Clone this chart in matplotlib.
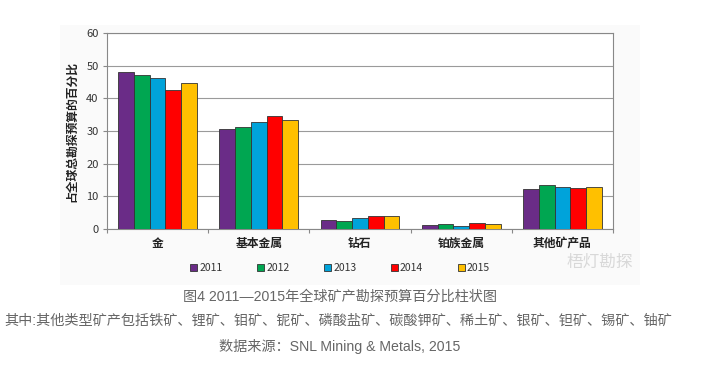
import matplotlib
matplotlib.use("Agg")
import matplotlib.pyplot as plt
import numpy as np
from matplotlib.patches import Rectangle

plt.rcParams['font.family'] = ['Noto Sans CJK SC', 'DejaVu Sans']

categories = ['金', '基本金属', '钻石', '铂族金属', '其他矿产品']
years = ['2011', '2012', '2013', '2014', '2015']
v2011 = [48.0, 30.7, 2.7, 1.3, 12.1]
v2012 = [47.2, 31.2, 2.6, 1.5, 13.5]
v2013 = [46.1, 32.7, 3.4, 0.9, 13.0]
v2014 = [42.6, 34.6, 4.1, 1.8, 12.5]
v2015 = [44.7, 33.3, 4.1, 1.4, 12.9]
series = [v2011, v2012, v2013, v2014, v2015]
colors = ['#6A2C87', '#00A651', '#00A3DA', '#FF0000', '#FFC000']

fig = plt.figure(figsize=(7.10, 3.76), dpi=100)
fig.patch.set_facecolor('white')
fig.patches.append(Rectangle((60/710, 1-285/376), 580/710, 260/376,
                             transform=fig.transFigure, facecolor='#fafafa',
                             edgecolor='none', zorder=-10))

ax = fig.add_axes([107/710, 1-229/376, 506/710, 196/376])
ax.set_facecolor('white')

x = np.arange(len(categories))
bw = 0.156
for i, (vals, c, y) in enumerate(zip(series, colors, years)):
    ax.bar(x + (i - 2) * bw, vals, width=bw, color=c, edgecolor='#333333',
           linewidth=0.6, label=y, zorder=3)

ax.set_xlim(-0.5, 4.5)
ax.set_ylim(0, 60)
ax.set_yticks(range(0, 61, 10))
ax.yaxis.grid(True, color='#9a9a9a', linewidth=0.8, zorder=0)
ax.set_xticks(np.arange(-0.5, 5, 1))
ax.set_xticklabels([])
ax.tick_params(axis='x', length=3, color='#888888', direction='out')
ax.tick_params(axis='y', length=3, color='#888888', labelsize=8, labelcolor='#333333', pad=3)
for s in ax.spines.values():
    s.set_color('#888888')
    s.set_linewidth(0.8)

for xi, cat in zip(x, categories):
    ax.text(xi, -4.3, cat, ha='center', va='center', fontsize=8.5,
            fontweight='bold', color='#222222')

ax.set_ylabel('占全球总勘探预算的百分比', fontsize=8.5, fontweight='bold',
              color='#222222', labelpad=6)

leg = fig.legend(loc='center', bbox_to_anchor=(340/710, 1-268/376), ncol=5,
                 frameon=False, fontsize=7.5, handlelength=0.7, handleheight=0.7,
                 handletextpad=0.2, columnspacing=3.3)
for t in leg.get_texts():
    t.set_color('#333333')

fig.text(600/710, 1-262/376, '梧灯勘探', fontsize=12, color='#d8d8d8',
         ha='center', va='center')

cap_font = ['Liberation Sans', 'Noto Sans CJK SC']
fig.text(340/710, 1-297/376, '图4 2011—2015年全球矿产勘探预算百分比柱状图',
         ha='center', va='center', fontsize=10.2, color='#666666', family=cap_font)
fig.text(338/710, 1-321/376, '其中:其他类型矿产包括铁矿、锂矿、钼矿、铌矿、磷酸盐矿、碳酸钾矿、稀土矿、银矿、钽矿、锡矿、铀矿',
         ha='center', va='center', fontsize=10.2, color='#666666', family=cap_font)
fig.text(340/710, 1-347/376, '数据来源：SNL Mining & Metals, 2015',
         ha='center', va='center', fontsize=10.2, color='#666666', family=cap_font)

fig.savefig('out.png', dpi=100, facecolor='white')
